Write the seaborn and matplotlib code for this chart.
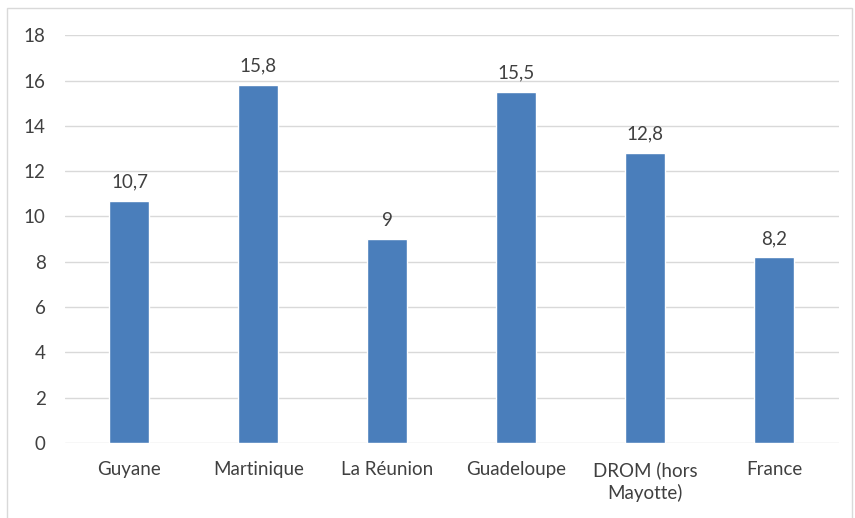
import pandas as pd
import matplotlib.pyplot as plt
import seaborn as sns
from matplotlib.patches import Rectangle

categories = ['Guyane', 'Martinique', 'La Réunion', 'Guadeloupe', 'DROM (hors\nMayotte)', 'France']
values = [10.7, 15.8, 9, 15.5, 12.8, 8.2]
labels = ['10,7', '15,8', '9', '15,5', '12,8', '8,2']

df = pd.DataFrame({'territoire': categories, 'valeur': values})

sns.set_theme(style="white")
plt.rcParams['font.family'] = ['Lato', 'DejaVu Sans']

fig = plt.figure(figsize=(8.55, 5.18), dpi=100)
ax = fig.add_axes([0.076, 0.145, 0.905, 0.787])

sns.barplot(data=df, x='territoire', y='valeur', color='#4A7EBB', saturation=1, width=0.31, ax=ax, zorder=3)

for i, lab in enumerate(labels):
    ax.text(i, values[i] + 0.45, lab, ha='center', va='bottom', fontsize=13.5, color='#404040')

ax.set_ylim(0, 18)
ax.set_yticks(range(0, 19, 2))
ax.set_xlim(-0.5, 5.5)
ax.yaxis.grid(True, color='#D9D9D9', linewidth=1, zorder=0)
ax.tick_params(axis='both', labelsize=13.5, colors='#404040', length=0)
ax.tick_params(axis='y', pad=14)
ax.tick_params(axis='x', pad=13)
for t in ax.get_xticklabels():
    t.set_linespacing(1.35)
ax.set_xlabel('')
ax.set_ylabel('')
for s in ax.spines.values():
    s.set_visible(False)

fig.patches.append(Rectangle((7 / 855, -0.01), 845 / 855, 1 - 8 / 518 + 0.01,
                             transform=fig.transFigure, fill=False,
                             edgecolor='#D9D9D9', linewidth=1))

fig.savefig('out.png', dpi=100)
